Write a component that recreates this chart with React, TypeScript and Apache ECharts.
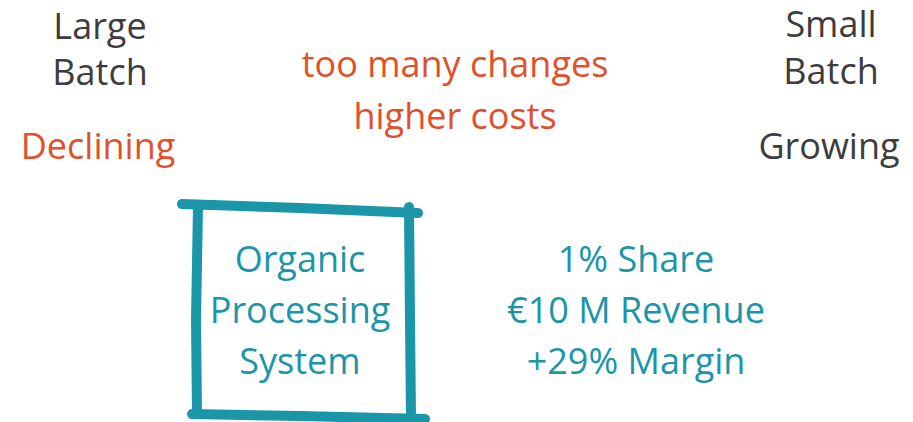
import React, { useEffect, useRef } from "react";
import * as echarts from "echarts";

const leftLabels = ["Large", "Batch"];
const leftStatus = "Declining";
const rightLabels = ["Small", "Batch"];
const rightStatus = "Growing";
const middleNotes = ["too many changes", "higher costs"];
const boxLabels = ["Organic", "Processing", "System"];
const metrics = ["1% Share", "€10 M Revenue", "+29% Margin"];

const DARK = "#3d3d3d";
const ORANGE = "#e0502a";
const TEAL = "#1b95a8";
const FONT = "'Open Sans', 'Noto Sans', sans-serif";

function txt(text: string, x: number, y: number, color: string, size = 36) {
  return {
    type: "text",
    x,
    y,
    style: {
      text,
      fill: color,
      font: `500 ${size}px ${FONT}`,
      textAlign: "center",
      textVerticalAlign: "middle",
    },
  };
}

export default function App() {
  const ref = useRef<HTMLDivElement>(null);
  useEffect(() => {
    document.body.style.margin = "0";
    const chart = echarts.init(ref.current!, null, { renderer: "svg" });
    const elements: any[] = [];
    leftLabels.forEach((t, i) => elements.push(txt(t, 100, 25 + i * 46, DARK)));
    elements.push(txt(leftStatus, 98, 145, ORANGE));
    rightLabels.forEach((t, i) => elements.push(txt(t, 831, 23 + i * 47, DARK)));
    elements.push(txt(rightStatus, 829, 145, DARK));
    middleNotes.forEach((t, i) => elements.push(txt(t, 455, 63 + i * 52, ORANGE)));
    boxLabels.forEach((t, i) => elements.push(txt(t, 300, 258 + i * 51, TEAL)));
    metrics.forEach((t, i) => elements.push(txt(t, 636, 258 + i * 51, TEAL)));
    const lineStyle = { stroke: TEAL, lineWidth: 10, lineCap: "round", lineJoin: "round", fill: null };
    elements.push({ type: "polyline", shape: { points: [[182, 204], [300, 208], [418, 213]] }, style: lineStyle });
    elements.push({ type: "polyline", shape: { points: [[198, 206], [196, 320], [197, 414]] }, style: lineStyle });
    elements.push({ type: "polyline", shape: { points: [[409, 207], [410, 320], [411, 418]] }, style: lineStyle });
    elements.push({ type: "polyline", shape: { points: [[192, 414], [300, 416], [425, 419]] }, style: lineStyle });
    chart.setOption({ animation: false, backgroundColor: "#ffffff", graphic: { elements } });
    return () => chart.dispose();
  }, []);
  return <div ref={ref} style={{ width: 913, height: 422 }} />;
}
